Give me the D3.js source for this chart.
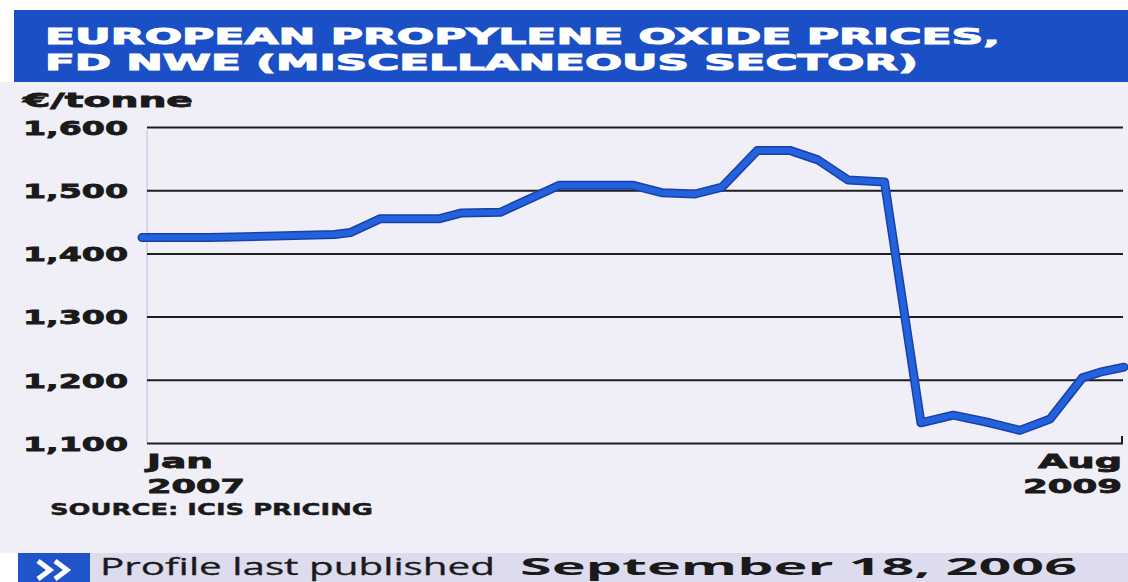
<!DOCTYPE html>
<html>
<head>
<meta charset="utf-8">
<script src="https://cdn.jsdelivr.net/npm/d3@7"></script>
<style>
  html, body { margin: 0; padding: 0; background: #ffffff; }
  svg { display: block; }
</style>
</head>
<body>
<svg id="chart" width="1128" height="582"></svg>
<script>
// Propylene oxide contract prices, FD NWE, EUR per tonne
const dates = [
  "2007-01-01", "2007-03-07", "2007-07-05", "2007-07-20", "2007-08-18",
  "2007-10-14", "2007-11-04", "2007-12-11", "2008-02-06", "2008-04-16",
  "2008-05-14", "2008-06-15", "2008-07-11", "2008-08-14", "2008-09-14",
  "2008-10-11", "2008-11-09", "2008-12-14", "2009-01-18", "2009-02-18",
  "2009-03-25", "2009-04-23", "2009-05-22", "2009-06-22", "2009-07-09",
  "2009-08-01"
];
const prices = [
  1425, 1425, 1430, 1433, 1455,
  1455, 1464, 1465, 1508, 1508,
  1496, 1494, 1505, 1563, 1563,
  1548, 1516, 1513, 1132, 1144,
  1132, 1120, 1138, 1203, 1212,
  1220
];
const yTicks = [1100, 1200, 1300, 1400, 1500, 1600];
const xTickLabels = [
  { date: "2007-01-01", month: "Jan", year: "2007", anchor: "start" },
  { date: "2009-08-01", month: "Aug", year: "2009", anchor: "end" }
];
const titleLines = ["EUROPEAN PROPYLENE OXIDE PRICES,", "FD NWE (MISCELLANEOUS SECTOR)"];
const unitLabel = "€/tonne";
const sourceLabel = "SOURCE: ICIS PRICING";
const footerPlain = "Profile last published";
const footerBold = "September 18, 2006";

const parse = d3.timeParse("%Y-%m-%d");
const series = dates.map((d, i) => ({ date: parse(d), value: prices[i] }));

const svg = d3.select("#chart");
const W = 1128, H = 582;

// paper background
svg.append("rect").attr("x", 0).attr("y", 0).attr("width", W).attr("height", H).attr("fill", "#ffffff");
svg.append("rect").attr("x", 0).attr("y", 82).attr("width", W).attr("height", 471).attr("fill", "#f0eff7");

// title bar with a two-line heading
svg.append("rect").attr("x", 14).attr("y", 10).attr("width", W - 14).attr("height", 72).attr("fill", "#1b4fc6");
const titleFont = "'DejaVu Sans', 'Open Sans', sans-serif";
const titleWidths = [955, 873];
const titleBaselines = [44, 70];
titleLines.forEach((t, i) => {
  svg.append("text").attr("x", 45).attr("y", titleBaselines[i])
    .attr("font-family", titleFont).attr("font-weight", "bold").attr("font-size", 22)
    .attr("fill", "#ffffff").attr("stroke", "#ffffff").attr("stroke-width", 1)
    .attr("textLength", titleWidths[i]).attr("lengthAdjust", "spacingAndGlyphs")
    .text(t);
});

// scales
const x = d3.scaleTime()
  .domain([parse(xTickLabels[0].date), parse(xTickLabels[1].date)])
  .range([142, 1124]);
const y = d3.scaleLinear().domain([1100, 1600]).range([443, 127]);

const labelFont = "'DejaVu Sans', sans-serif";
const ink = "#1a1a1a";

// unit label
svg.append("text").attr("x", 23).attr("y", 107)
  .attr("font-family", labelFont).attr("font-weight", "bold").attr("font-size", 20)
  .attr("fill", ink).attr("stroke", ink).attr("stroke-width", 0.8)
  .attr("textLength", 170).attr("lengthAdjust", "spacingAndGlyphs")
  .text(unitLabel);

// faint vertical axis
svg.append("line").attr("x1", 147).attr("x2", 147).attr("y1", 130).attr("y2", 443)
  .attr("stroke", "#d6d4ec").attr("stroke-width", 2);

// y axis with gridlines
const fmt = d3.format(",");
const yAxis = d3.axisLeft(y).tickValues(yTicks).tickSize(-(1123 - 147)).tickPadding(19).tickFormat(fmt);
const gy = svg.append("g").attr("transform", "translate(147,0)").call(yAxis);
gy.select(".domain").remove();
gy.selectAll(".tick line").attr("stroke", "#1e1e1e").attr("stroke-width", 2);
gy.selectAll(".tick text")
  .attr("font-family", labelFont).attr("font-weight", "bold").attr("font-size", 20)
  .attr("fill", ink).attr("stroke", ink).attr("stroke-width", 0.8).attr("dy", "0.36em")
  .attr("textLength", 105).attr("lengthAdjust", "spacingAndGlyphs");

// small end tick on the baseline
svg.append("line").attr("x1", 1122).attr("x2", 1122).attr("y1", 436).attr("y2", 443)
  .attr("stroke", "#1e1e1e").attr("stroke-width", 2);

// x labels at start and end of the period
xTickLabels.forEach(t => {
  const xp = t.anchor === "start" ? x(parse(t.date)) + 5 : x(parse(t.date)) - 2;
  svg.append("text").attr("x", xp).attr("y", 468).attr("text-anchor", t.anchor)
    .attr("font-family", labelFont).attr("font-weight", "bold").attr("font-size", 20)
    .attr("fill", ink).attr("stroke", ink).attr("stroke-width", 0.8)
    .attr("textLength", t.anchor === "start" ? 66 : 84).attr("lengthAdjust", "spacingAndGlyphs")
    .text(t.month);
  svg.append("text").attr("x", xp).attr("y", 493).attr("text-anchor", t.anchor)
    .attr("font-family", labelFont).attr("font-weight", "bold").attr("font-size", 20)
    .attr("fill", ink).attr("stroke", ink).attr("stroke-width", 0.8)
    .attr("textLength", t.anchor === "start" ? 98 : 99).attr("lengthAdjust", "spacingAndGlyphs")
    .text(t.year);
});

// source note
svg.append("text").attr("x", 50).attr("y", 515)
  .attr("font-family", labelFont).attr("font-weight", "bold").attr("font-size", 16)
  .attr("fill", ink).attr("stroke", ink).attr("stroke-width", 0.4)
  .attr("textLength", 323).attr("lengthAdjust", "spacingAndGlyphs")
  .text(sourceLabel);

// price line
const line = d3.line().x(d => x(d.date)).y(d => y(d.value));
svg.append("path").datum(series).attr("d", line)
  .attr("fill", "none").attr("stroke", "#1a3faa").attr("stroke-width", 9)
  .attr("stroke-linejoin", "round").attr("stroke-linecap", "round");
svg.append("path").datum(series).attr("d", line)
  .attr("fill", "none").attr("stroke", "#2262dc").attr("stroke-width", 6)
  .attr("stroke-linejoin", "round").attr("stroke-linecap", "round");

// footer bar
svg.append("rect").attr("x", 18).attr("y", 553).attr("width", W - 18).attr("height", 29).attr("fill", "#dddcee");
svg.append("rect").attr("x", 18).attr("y", 553).attr("width", 72).attr("height", 29).attr("fill", "#1f55c8");
[0, 17].forEach(off => {
  svg.append("path")
    .attr("d", `M${38 + off},561 L${50 + off},570 L${38 + off},579`)
    .attr("fill", "none").attr("stroke", "#ffffff").attr("stroke-width", 5)
    .attr("stroke-linejoin", "miter");
});
const footFont = "'Open Sans', 'DejaVu Sans', sans-serif";
svg.append("text").attr("x", 100).attr("y", 575)
  .attr("font-family", footFont).attr("font-size", 24).attr("fill", ink)
  .attr("stroke", ink).attr("stroke-width", 0.3)
  .attr("textLength", 395).attr("lengthAdjust", "spacingAndGlyphs")
  .text(footerPlain);
svg.append("text").attr("x", 520).attr("y", 575)
  .attr("font-family", footFont).attr("font-weight", "bold").attr("font-size", 24).attr("fill", ink)
  .attr("textLength", 557).attr("lengthAdjust", "spacingAndGlyphs")
  .text(footerBold);
</script>
</body>
</html>
